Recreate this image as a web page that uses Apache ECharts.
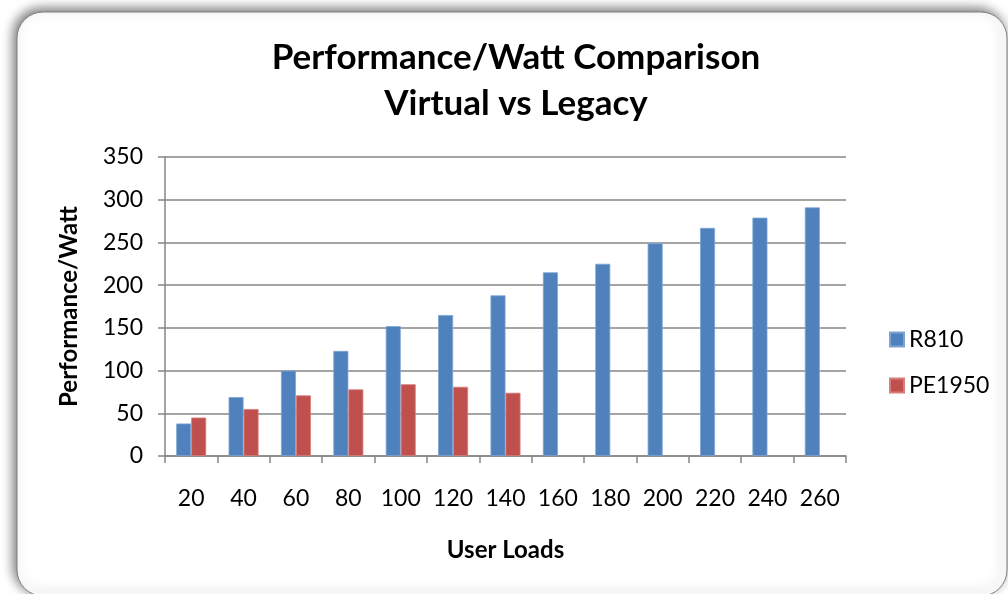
<!DOCTYPE html>
<html>
<head>
<meta charset="utf-8">
<script src="https://cdn.jsdelivr.net/npm/echarts@6/dist/echarts.min.js"></script>
<style>
  html, body { margin: 0; padding: 0; background: #fff; }
  #main { width: 1008px; height: 594px; }
</style>
</head>
<body>
<div id="main"></div>
<script>
// chart data
var userLoads = ['20', '40', '60', '80', '100', '120', '140', '160', '180', '200', '220', '240', '260'];
var r810 = [38, 69, 100, 123, 152, 165, 188, 215, 225, 249, 267, 279, 291];
var pe1950 = [45, 55, 71, 78, 84, 81, 74, null, null, null, null, null, null];
var seriesNames = ['R810', 'PE1950'];
var seriesColors = ['#4F81BD', '#C0504D'];

var font = 'Lato, "Open Sans", sans-serif';
var myChart = echarts.init(document.getElementById('main'));

myChart.setOption({
  animation: false,
  color: seriesColors,
  textStyle: { fontFamily: font, color: '#000' },
  graphic: [
    {
      type: 'rect',
      z: -10,
      shape: { x: 17, y: 12, width: 990, height: 584, r: 26 },
      style: {
        fill: '#fff',
        stroke: '#7f7f7f',
        lineWidth: 1,
        shadowBlur: 12,
        shadowOffsetX: -3,
        shadowOffsetY: -3,
        shadowColor: 'rgba(0,0,0,0.55)'
      }
    }
  ],
  title: {
    text: 'Performance/Watt Comparison\nVirtual vs Legacy',
    left: 511,
    textAlign: 'center',
    top: 30,
    textStyle: { fontFamily: font, fontSize: 35, fontWeight: 'bold', color: '#000', lineHeight: 46 }
  },
  legend: {
    orient: 'vertical',
    left: 884,
    top: 323,
    itemWidth: 14,
    itemHeight: 14,
    itemGap: 23,
    icon: 'rect',
    data: seriesNames,
    textStyle: { fontFamily: font, fontSize: 23, color: '#000' }
  },
  grid: { left: 165, right: 162, top: 157, bottom: 138 },
  xAxis: {
    type: 'category',
    data: userLoads,
    name: 'User Loads',
    nameLocation: 'middle',
    nameGap: 82,
    nameTextStyle: { fontFamily: font, fontSize: 24, fontWeight: 'bold', color: '#000' },
    axisLine: { lineStyle: { color: '#868686', width: 1.5 } },
    axisTick: { show: true, length: 7, lineStyle: { color: '#868686', width: 1.5 } },
    axisLabel: { fontFamily: font, fontSize: 23, color: '#000', margin: 31 }
  },
  yAxis: {
    type: 'value',
    min: 0,
    max: 350,
    interval: 50,
    name: 'Performance/Watt',
    nameLocation: 'middle',
    nameGap: 84,
    nameTextStyle: { fontFamily: font, fontSize: 24, fontWeight: 'bold', color: '#000' },
    axisLine: { show: true, lineStyle: { color: '#868686', width: 1.5 } },
    axisTick: { show: true, length: 7, lineStyle: { color: '#868686', width: 1.5 } },
    axisLabel: { fontFamily: font, fontSize: 23, color: '#000', margin: 22 },
    splitLine: { lineStyle: { color: '#868686', width: 1.5 } }
  },
  series: [
    {
      name: seriesNames[0],
      type: 'bar',
      data: r810,
      barGap: '0%',
      barCategoryGap: '42.8%',
      itemStyle: { color: seriesColors[0], borderColor: '#7fa3d3', borderWidth: 0.8 }
    },
    {
      name: seriesNames[1],
      type: 'bar',
      data: pe1950,
      barGap: '0%',
      barCategoryGap: '42.8%',
      itemStyle: { color: seriesColors[1], borderColor: '#d57f7d', borderWidth: 0.8 }
    }
  ]
});
</script>
</body>
</html>
